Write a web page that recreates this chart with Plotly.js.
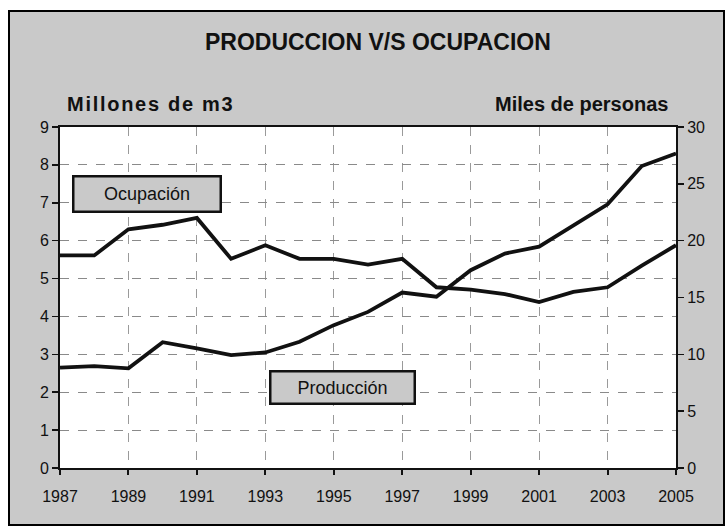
<!DOCTYPE html>
<html>
<head>
<meta charset="utf-8">
<script src="https://cdn.plot.ly/plotly-3.0.1.min.js"></script>
<style>
  html, body { margin: 0; padding: 0; background: #ffffff; width: 725px; height: 526px; overflow: hidden; }
  #chart { position: absolute; left: 8px; top: 10px; width: 713px; height: 512px; border: 2px solid #000; }
  #chart .annotation[data-index="0"] text { letter-spacing: 1.7px; }
</style>
</head>
<body>
<div id="chart"></div>
<script>
const years = [1987,1988,1989,1990,1991,1992,1993,1994,1995,1996,1997,1998,1999,2000,2001,2002,2003,2004,2005];
const produccion = [2.65,2.69,2.63,3.32,3.16,2.98,3.05,3.33,3.77,4.12,4.63,4.52,5.22,5.66,5.84,6.41,6.96,7.97,8.30];
const ocupacion = [18.7,18.7,21.0,21.4,22.0,18.4,19.6,18.4,18.4,17.9,18.4,15.9,15.7,15.3,14.6,15.5,15.9,17.8,19.6];
const xTicks = [1987,1989,1991,1993,1995,1997,1999,2001,2003,2005];
const titleText = 'PRODUCCION V/S OCUPACION';
const leftTitle = 'Millones de m3';
const rightTitle = 'Miles de personas';
const labelOcup = 'Ocupación';
const labelProd = 'Producción';

const font = 'Arial, "Liberation Sans", sans-serif';
const gray = '#c9c9c9';

const traces = [
  { x: years, y: produccion, type: 'scatter', mode: 'lines', name: labelProd,
    line: { color: '#111', width: 3.8 }, yaxis: 'y' },
  { x: years, y: ocupacion, type: 'scatter', mode: 'lines', name: labelOcup,
    line: { color: '#111', width: 3.8 }, yaxis: 'y2' }
];

const layout = {
  width: 713, height: 512,
  margin: { l: 50, r: 47, t: 115, b: 56 },
  paper_bgcolor: gray,
  plot_bgcolor: '#ffffff',
  showlegend: false,
  font: { family: font, color: '#111', size: 14 },
  title: { text: '<b>' + titleText + '</b>', font: { family: font, size: 23, color: '#111' },
           x: 0.516, xanchor: 'center', y: 0.941, yanchor: 'middle', xref: 'container', yref: 'container' },
  xaxis: {
    range: [1987, 2005], tickvals: xTicks, ticktext: xTicks.map(String),
    showgrid: true, gridcolor: '#9a9a9a', griddash: 'dash', gridwidth: 1,
    showline: true, linecolor: '#111', linewidth: 2, mirror: true,
    ticks: 'outside', ticklen: 5, tickcolor: '#111', tickwidth: 2,
    ticklabelstandoff: 8,
    tickfont: { family: font, size: 16, color: '#111' }, zeroline: false
  },
  yaxis: {
    range: [0, 9], dtick: 1,
    showgrid: true, gridcolor: '#8a8a8a', griddash: 'dash', gridwidth: 1,
    showline: true, linecolor: '#111', linewidth: 2,
    ticks: 'outside', ticklen: 6, tickcolor: '#111', tickwidth: 1.5,
    tickfont: { family: font, size: 16, color: '#111' }, zeroline: false
  },
  yaxis2: {
    range: [0, 30], dtick: 5, overlaying: 'y', side: 'right',
    showgrid: false, showline: true, linecolor: '#111', linewidth: 2,
    ticks: 'outside', ticklen: 6, tickcolor: '#111', tickwidth: 1.5,
    tickfont: { family: font, size: 16, color: '#111' }, zeroline: false
  },
  annotations: [
    { text: '<b>' + leftTitle + '</b>', xref: 'paper', yref: 'paper', x: 0.0275, y: 1.067,
      xanchor: 'left', yanchor: 'middle', showarrow: false, font: { family: font, size: 20, color: '#111' } },
    { text: '<b>' + rightTitle + '</b>', xref: 'paper', yref: 'paper', x: 0.99, y: 1.067,
      xanchor: 'right', yanchor: 'middle', showarrow: false, font: { family: font, size: 20, color: '#111' } },
    { text: labelOcup, xref: 'paper', yref: 'paper', x: 0.141, y: 0.804,
      xanchor: 'center', yanchor: 'middle', showarrow: false, width: 143, height: 31,
      bgcolor: gray, bordercolor: '#111', borderwidth: 2.5, borderpad: 1,
      font: { family: font, size: 18, color: '#111' } },
    { text: labelProd, xref: 'paper', yref: 'paper', x: 0.459, y: 0.235,
      xanchor: 'center', yanchor: 'middle', showarrow: false, width: 140, height: 28,
      bgcolor: gray, bordercolor: '#111', borderwidth: 2.5, borderpad: 1,
      font: { family: font, size: 18, color: '#111' } }
  ]
};

Plotly.newPlot('chart', traces, layout, { displayModeBar: false, staticPlot: true });
</script>
</body>
</html>
